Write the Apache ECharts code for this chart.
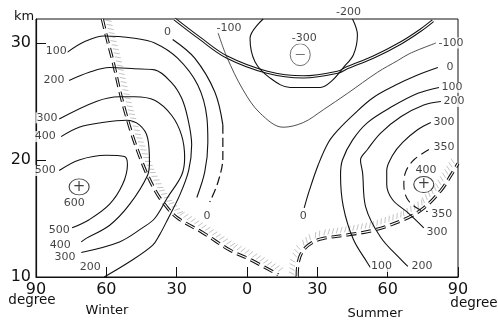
<!DOCTYPE html>
<html><head><meta charset="utf-8">
<script src="https://cdn.jsdelivr.net/npm/echarts@6/dist/echarts.min.js"></script>
<style>html,body{margin:0;padding:0;background:#fff}#c{width:498px;height:322px}</style>
</head><body><div id="c"></div>
<script>
// ---- axes ----
const latTicks = [-90, -60, -30, 0, 30, 60, 90];   // winter negative, summer positive
const kmTicks = [10, 20, 30];

// ---- contour lines [latitude, km] ----
const w500 = [[-80.1,19.1],[-71.6,20],[-60,20.4],[-52.3,20.3],[-51,19.6],[-53.1,17.9],[-58.7,16.2],[-67.3,14.9],[-74.6,14.2]];
const w400 = [[-79.3,22],[-71.6,22.8],[-61.7,23.2],[-51.4,23.4],[-45.9,23],[-42.4,21.9],[-41.6,19.8],[-42.4,18.7],[-50.1,16.2],[-58.7,14.4],[-68.6,13.3],[-70.7,13]];
const w300 = [[-80.1,23.5],[-64.3,25],[-54.4,25.4],[-48,25.4],[-39.4,25.1],[-32.1,23.8],[-27.9,22.1],[-26.6,20.2],[-27.9,18.7],[-33.9,16.8],[-39.4,15],[-44.6,14.2],[-54.4,13],[-70.7,12.1]];
const w200 = [[-75.9,26.8],[-67.3,27.5],[-58.7,27.9],[-48,27.8],[-39.4,27.7],[-32.1,26.6],[-27.9,25.3],[-25.3,23.6],[-23.6,21.3],[-24.9,19.1],[-28.7,17],[-33.9,14.9],[-37.3,13.6],[-40.3,12.7],[-50.1,11.3],[-60.9,10]];
const w100 = [[-76.7,29.2],[-69.4,30.1],[-60.9,30.6],[-48,30.4],[-39.4,30],[-29.6,28.7],[-21,26.4],[-17.1,23.6],[-16.7,21.5],[-18,19],[-21.4,16.8]];
const w0top = [[-31.7,30.3],[-22.3,28.7],[-13.7,25.8],[-10.3,23]];
const w0low = [[-10.3,23],[-10.3,20.2],[-12.4,18.1],[-15.9,16.4]];
const m100 = [[-12.4,30.9],[-8.6,28.8],[-1.7,26],[5.6,24],[15.4,22.8],[24,23.2],[32.6,24.3],[42.9,25.7],[55.7,27.5],[64.3,28.5],[69.4,29.1],[80.6,30]];
const m200 = [[6.9,32.05],[1.3,30.4],[3.4,28.4],[9.9,27],[18.4,26.2],[31.3,26.2],[36.4,26.8],[41.1,27.9],[45.4,29],[47.1,30.7],[45,32.05]];
const s0   = [[81.4,27.9],[72,27.2],[63.4,26.4],[53.6,25.3],[45,23.8],[39,22.6],[34.7,21.5],[30.4,19.6],[26.6,17.4],[24.4,15.9]];
const s100 = [[81.9,26.2],[72.9,25.7],[61.3,24.5],[51.4,23.2],[45,21.7],[40.7,20],[39.9,18.7],[41.1,16],[45.4,13.2],[51.4,11.2],[52.7,10.8]];
const s200 = [[82.7,25],[75.4,24.7],[65.6,23.7],[57,22.3],[51.4,20.9],[48.4,20],[49.3,18.9],[50.6,16],[57,13.4],[65.6,11.5],[68.6,10.9]];
const s300 = [[78.4,23.2],[72.9,22.6],[66.4,21.5],[62.1,20.4],[59.6,19.1],[59.6,17.9],[62.1,16.6],[68.6,15.5],[75.4,14.2]];
const s350 = [[77.6,20.9],[71.1,20],[67.7,19],[66.9,17.9],[68.6,16.6],[74.1,15.7],[77.1,15.6]];

// ---- tropopauses / double line ----
const topDouble = [[-30.9,32.05],[-20.1,30.4],[-8.6,28.8],[8.6,27.5],[24,27.1],[38.6,27.5],[42.9,27.9],[54,28.8],[65.6,30],[74.1,31.1],[79.3,31.9]];
const winterTrop = [[-61.7,32.05],[-59.6,30.3],[-57,28.3],[-54.4,26],[-51.9,24.1],[-48.9,22.1],[-45.9,20.4],[-42.9,18.9],[-38.6,17.2],[-35.1,16.2],[-30,15.1],[-18.9,13.8],[-7.3,12.3],[1.3,11.5],[13.3,10.2]];
const summerTrop = [[21.4,10],[21.9,11.3],[24,12.3],[28.3,13],[32.6,13.3],[42.9,13.6],[54,14],[66.9,14.9],[75.4,15.9],[82.7,17.4],[87,18.7],[90,19.7]];

// ---- extrema markers [lat, km, sign] ----
const maxima = [[-71.6,17.7,'+'],[75.4,17.9,'+']];
const minima = [[22.7,29.0,'—']];

// ---- contour labels [lat, km, text] ----
const contourLabels = [
  [-81.4,29.3,'100'],[-82.3,26.8,'200'],[-85.3,23.6,'300'],[-86.1,22,'400'],[-86.1,19.1,'500'],
  [-73.7,16.3,'600'],[-80.1,14,'500'],[-79.7,12.7,'400'],[-77.6,11.7,'300'],[-66.9,10.8,'200'],
  [-33.9,30.9,'0'],[-17.1,15.2,'0'],[-7.7,31.3,'-100'],[24.4,30.4,'-300'],[43.3,32.6,'-200'],[24,15.2,'0'],
  [87,30,'-100'],[86.6,27.9,'0'],[87.4,26.2,'100'],[88.3,25,'200'],[84,23.2,'300'],[84,21.1,'350'],
  [76.3,19.1,'400'],[83.1,15.4,'350'],[81,13.8,'300'],[57.4,10.9,'100'],[74.6,10.9,'200']
];

const FONT = 'DejaVu Sans';
function line(data, width, dash, color, z) {
  return {type:'line', data:data, showSymbol:false, symbol:'none', smooth:0.35, silent:true, clip:false,
    lineStyle:{color:color||'#111', width:width, type:dash||'solid', cap:'butt'}, z:z||3};
}
function hatch(pts, z) {
  return {
    type:'custom', silent:true, clip:false, z:z,
    data:[[pts[0][0], pts[0][1]]],
    renderItem: function(params, api) {
      const P = pts.map(p => api.coord(p));
      const kids = [];
      let t = 2; const step = 4.2;
      for (let i = 1; i < P.length; i++) {
        const x0 = P[i-1][0], y0 = P[i-1][1], dx = P[i][0]-x0, dy = P[i][1]-y0, L = Math.hypot(dx,dy);
        if (!L) continue;
        const tx = dx/L, ty = dy/L, nx = ty, ny = -tx;
        while (t < L) {
          const bx = x0+tx*t, by = y0+ty*t;
          kids.push({type:'line', shape:{x1:bx+nx*3, y1:by+ny*3, x2:bx+nx*8.5+tx*2.5, y2:by+ny*8.5+ty*2.5},
            style:{stroke:'#9a9a9a', lineWidth:0.6}});
          t += step;
        }
        t -= L;
      }
      return {type:'group', children:kids};
    }
  };
}

const series = [
  hatch(winterTrop, 1), hatch(summerTrop, 1),
  line(winterTrop, 3.2, [10,5], '#111', 2), line(winterTrop, 1.1, [10,5], '#fff', 2),
  line(summerTrop, 3.2, [10,5], '#111', 2), line(summerTrop, 1.1, [10,5], '#fff', 2),
  line(topDouble, 3.2, 'solid', '#111', 2), line(topDouble, 1.1, 'solid', '#fff', 2),
  line(w500, 1.1), line(w400, 1.1), line(w300, 1.1), line(w200, 1.1), line(w100, 1.1),
  line(w0top, 1.2), line(w0low, 1.2, [9,4]),
  line(m100, 0.8, 'solid', '#222'), line(m200, 1.1),
  line(s0, 1.1), line(s100, 1.1), line(s200, 1.1), line(s300, 1.1), line(s350, 1.1, [9,5]),
  {type:'scatter', data:maxima, symbol:'circle', symbolSize:[20,16], silent:true, clip:false, z:5,
    itemStyle:{color:'rgba(0,0,0,0)', borderColor:'#111', borderWidth:1},
    label:{show:true, position:'inside', formatter:p=>p.data[2], fontSize:15, color:'#111', fontFamily:FONT}},
  {type:'scatter', data:minima, symbol:'circle', symbolSize:[20,22], silent:true, clip:false, z:5,
    itemStyle:{color:'rgba(0,0,0,0)', borderColor:'#222', borderWidth:0.8},
    label:{show:true, position:'inside', formatter:p=>p.data[2], fontSize:10, color:'#111', fontFamily:FONT}},
  {type:'scatter', data:contourLabels, symbol:'circle', symbolSize:0.1, silent:true, clip:false, z:6,
    itemStyle:{color:'rgba(0,0,0,0)'},
    label:{show:true, position:'inside', formatter:p=>p.data[2], fontSize:11, color:'#111', fontFamily:FONT,
      backgroundColor:'#fff', padding:[0,1]}}
];

const chart = echarts.init(document.getElementById('c'), null, {renderer:'canvas'});
chart.setOption({
  animation:false,
  backgroundColor:'#fff',
  grid:{left:36, right:40, top:19, bottom:45, show:true, borderColor:'#111', borderWidth:1, backgroundColor:'transparent'},
  xAxis:{type:'value', min:latTicks[0], max:latTicks[latTicks.length-1], interval:30,
    axisLine:{onZero:false, lineStyle:{color:'#111', width:1.2}}, splitLine:{show:false},
    axisTick:{inside:true, length:10, lineStyle:{color:'#111'}},
    axisLabel:{formatter:v=>latTicks.includes(v)?String(Math.abs(v)):'', fontSize:16, color:'#111', fontFamily:FONT, margin:5}},
  yAxis:{type:'value', min:kmTicks[0], max:32.05, interval:10,
    axisLine:{show:true, onZero:false, lineStyle:{color:'#111', width:1.2}}, splitLine:{show:false},
    axisTick:{inside:true, length:10, lineStyle:{color:'#111'}},
    axisLabel:{formatter:v=>kmTicks.includes(v)?String(v):'', fontSize:16, color:'#111', fontFamily:FONT, margin:5, showMaxLabel:false}},
  graphic:[
    {type:'text', left:14, top:10, style:{text:'km', fontSize:13, fill:'#111', fontFamily:FONT}},
    {type:'text', x:32, y:300, style:{text:'degree', fontSize:13.5, fill:'#111', fontFamily:FONT, textAlign:'center', textVerticalAlign:'middle'}},
    {type:'text', x:474, y:303, style:{text:'degree', fontSize:13.5, fill:'#111', fontFamily:FONT, textAlign:'center', textVerticalAlign:'middle'}},
    {type:'text', x:107, y:311, style:{text:'Winter', fontSize:13, fill:'#111', fontFamily:FONT, textAlign:'center', textVerticalAlign:'middle'}},
    {type:'text', x:375, y:314, style:{text:'Summer', fontSize:13, fill:'#111', fontFamily:FONT, textAlign:'center', textVerticalAlign:'middle'}}
  ],
  series:series
});
</script>
</body></html>
